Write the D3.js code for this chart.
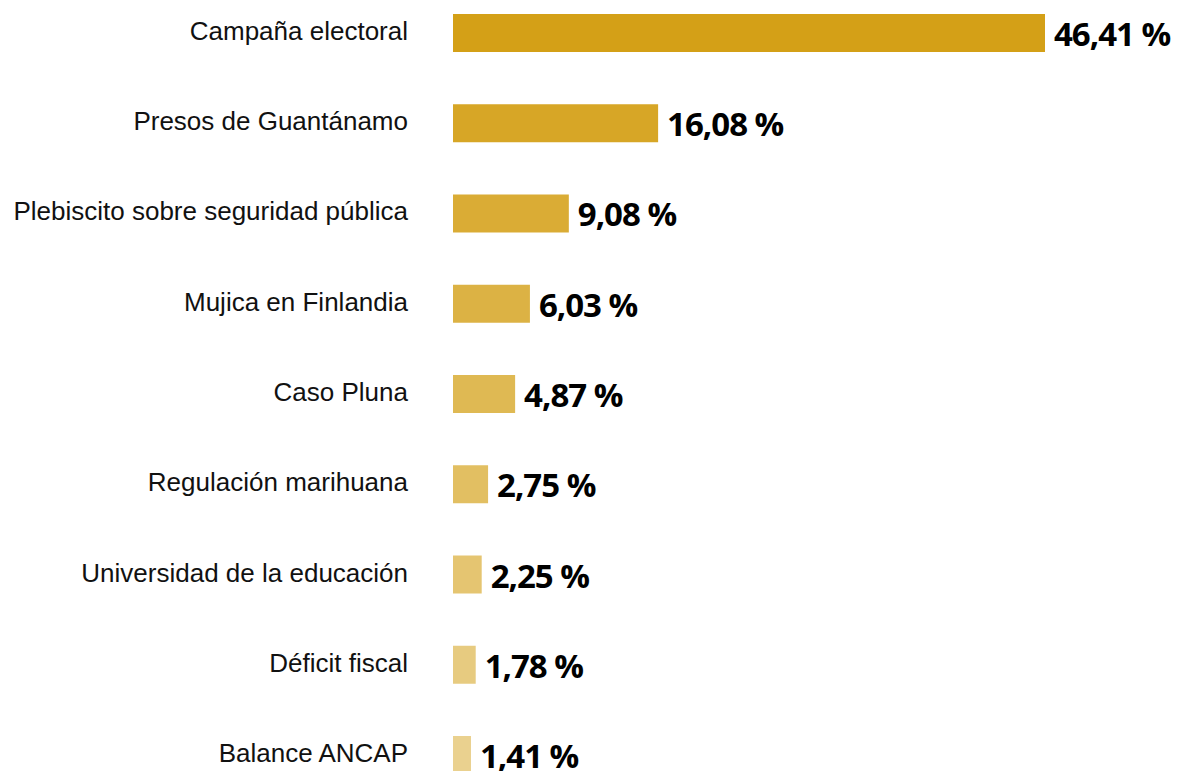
<!DOCTYPE html>
<html>
<head>
<meta charset="utf-8">
<script src="https://cdn.jsdelivr.net/npm/d3@7"></script>
<style>
  html, body { margin: 0; padding: 0; background: #fff; }
  .label { font-family: "Liberation Sans", Arial, sans-serif; font-size: 26px; fill: #111; }
  .value { font-family: "Open Sans", sans-serif; font-weight: 700; font-size: 33px; fill: #000; letter-spacing: -1px; }
</style>
</head>
<body>
<div id="chart"></div>
<script>
// Topics and their share (%)
var topics = [
    "Campaña electoral",
    "Presos de Guantánamo",
    "Plebiscito sobre seguridad pública",
    "Mujica en Finlandia",
    "Caso Pluna",
    "Regulación marihuana",
    "Universidad de la educación",
    "Déficit fiscal",
    "Balance ANCAP"
];
var shares = [46.41, 16.08, 9.08, 6.03, 4.87, 2.75, 2.25, 1.78, 1.41];
var value_labels = ["46,41 %", "16,08 %", "9,08 %", "6,03 %", "4,87 %",
                    "2,75 %", "2,25 %", "1,78 %", "1,41 %"];

var width = 1178,
    height = 771;
var bar_left = 453;
var label_right = 408;

var svg = d3.select("#chart").append("svg")
    .attr("width", width)
    .attr("height", height);

// 12.76 px per percentage point, as in the original
var x = d3.scaleLinear()
    .domain([0, 46.41])
    .range([bar_left, 1045]);

// bars are 38px high, one row every ~90px
var y = d3.scaleBand()
    .domain(d3.range(topics.length))
    .range([14, 774])
    .paddingInner(0.579)
    .paddingOuter(0);

// Darker gold for the top bar, fading down the list
var colour = d3.scaleLinear()
    .domain([0, topics.length - 1])
    .range(["#d4a017", "#ead18f"]);

var row = svg.selectAll(".row")
    .data(shares)
    .enter().append("g")
    .attr("class", "row");

row.append("rect")
    .attr("x", x(0))
    .attr("y", function(d, i) { return y(i); })
    .attr("width", function(d) { return x(d) - x(0); })
    .attr("height", y.bandwidth())
    .style("fill", function(d, i) { return colour(i); });

row.append("text")
    .attr("class", "label")
    .attr("x", label_right)
    .attr("y", function(d, i) { return y(i) + y.bandwidth() / 2 + 7; })
    .attr("text-anchor", "end")
    .text(function(d, i) { return topics[i]; });

row.append("text")
    .attr("class", "value")
    .attr("x", function(d) { return x(d) + 9; })
    .attr("y", function(d, i) { return y(i) + y.bandwidth() / 2 + 13; })
    .text(function(d, i) { return value_labels[i]; });
</script>
</body>
</html>
